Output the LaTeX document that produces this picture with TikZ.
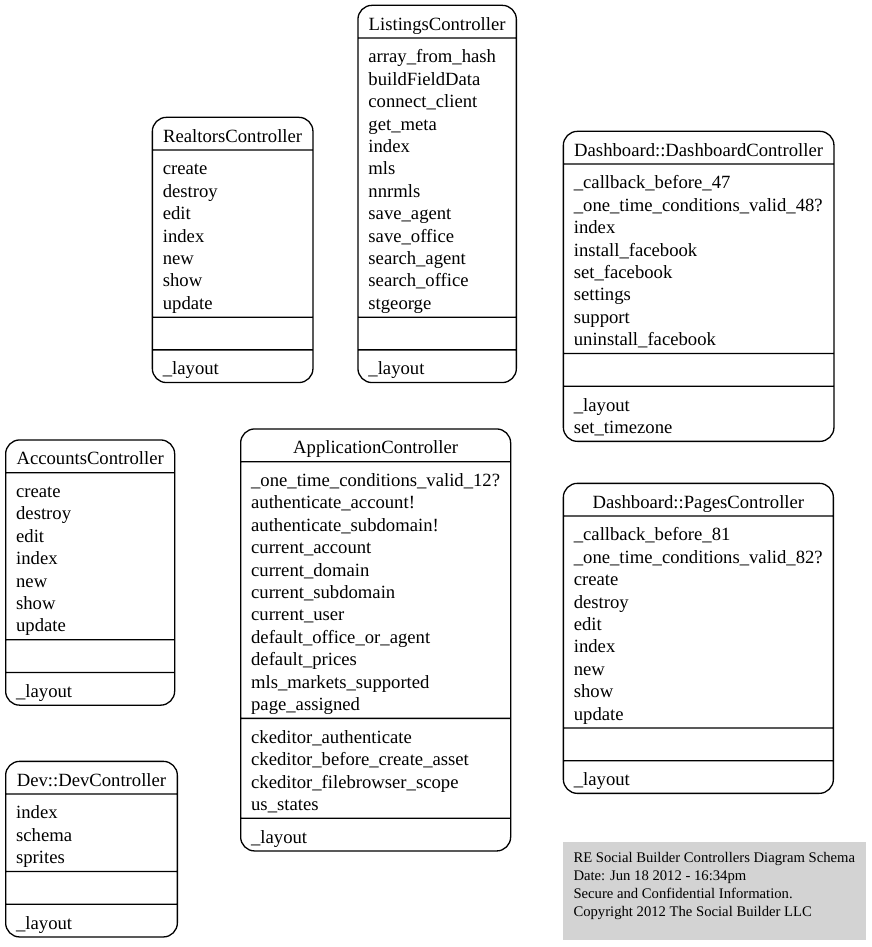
\documentclass[tikz,border=0pt]{standalone}
\usepackage{fontspec}
\setmainfont{Liberation Serif}
\usetikzlibrary{shapes.multipart}
\definecolor{notegray}{RGB}{211,211,211}
\newcommand{\topstr}{\rule{0pt}{19.7pt}}
\newcommand{\lastln}[1]{\smash{#1}\rule[-2.7pt]{0pt}{2.7pt}}

\begin{document}
\begin{tikzpicture}[x=1pt,y=-1pt,
  ctrl/.style={rectangle split,rectangle split parts=4,draw,line width=1.3pt,rounded corners=14pt,anchor=north west,inner xsep=10.5pt,inner ysep=4.5pt,align=left,font=\fontsize{18.67}{22.4}\selectfont},
  note/.style={fill=notegray,anchor=north west,inner sep=0pt,minimum width=303.7pt,minimum height=98.3pt},
  notetext/.style={anchor=north west,inner sep=0pt,align=left,font=\fontsize{14.67}{18}\selectfont}]
\useasboundingbox (0,0) rectangle (871,947);
\node[ctrl,text width=139.6pt] (realtors) at (151.7,116.7) {\topstr\hfill\lastln{RealtorsController}\hfill\null
\nodepart{two}\topstr create\\destroy\\edit\\index\\new\\show\\\lastln{update}
\nodepart{three}\strut
\nodepart{four}\topstr\lastln{\_layout}};
\node[ctrl,text width=137.4pt] (listings) at (357.3,4.7) {\topstr\hfill\lastln{ListingsController}\hfill\null
\nodepart{two}\topstr array\_from\_hash\\buildFieldData\\connect\_client\\get\_meta\\index\\mls\\nnrmls\\save\_agent\\save\_office\\search\_agent\\search\_office\\\lastln{stgeorge}
\nodepart{three}\strut
\nodepart{four}\topstr\lastln{\_layout}};
\node[ctrl,text width=249.6pt] (dashboard) at (562.7,130.7) {\topstr\hfill\lastln{Dashboard::DashboardController}\hfill\null
\nodepart{two}\topstr\_callback\_before\_47\\\_one\_time\_conditions\_valid\_48?\\index\\install\_facebook\\set\_facebook\\settings\\support\\\lastln{uninstall\_facebook}
\nodepart{three}\strut
\nodepart{four}\topstr\_layout\\\lastln{set\_timezone}};
\node[ctrl,text width=148pt] (accounts) at (5,439.3) {\topstr\hfill\lastln{AccountsController}\hfill\null
\nodepart{two}\topstr create\\destroy\\edit\\index\\new\\show\\\lastln{update}
\nodepart{three}\strut
\nodepart{four}\topstr\lastln{\_layout}};
\node[ctrl,text width=249pt] (application) at (240,428.3) {\topstr\hfill\lastln{ApplicationController}\hfill\null
\nodepart{two}\topstr\_one\_time\_conditions\_valid\_12?\\authenticate\_account!\\authenticate\_subdomain!\\current\_account\\current\_domain\\current\_subdomain\\current\_user\\default\_office\_or\_agent\\default\_prices\\mls\_markets\_supported\\\lastln{page\_assigned}
\nodepart{three}\topstr ckeditor\_authenticate\\ckeditor\_before\_create\_asset\\ckeditor\_filebrowser\_scope\\\lastln{us\_states}
\nodepart{four}\topstr\lastln{\_layout}};
\node[ctrl,text width=249pt] (pages) at (562.7,482.7) {\topstr\hfill\lastln{Dashboard::PagesController}\hfill\null
\nodepart{two}\topstr\_callback\_before\_81\\\_one\_time\_conditions\_valid\_82?\\create\\destroy\\edit\\index\\new\\show\\\lastln{update}
\nodepart{three}\strut
\nodepart{four}\topstr\lastln{\_layout}};
\node[ctrl,text width=150.7pt] (dev) at (5,760.7) {\topstr\hfill\lastln{Dev::DevController}\hfill\null
\nodepart{two}\topstr index\\schema\\\lastln{sprites}
\nodepart{three}\strut
\nodepart{four}\topstr\lastln{\_layout}};
\node[note] (legend) at (562.3,841.7) {};
\node[notetext] (legendtext) at ([xshift=11pt,yshift=-8.4pt]legend.north west) {\strut RE Social Builder Controllers Diagram Schema\\Date: Jun 18 2012 - 16:34pm\\Secure and Confidential Information.\\Copyright 2012 The Social Builder LLC\strut};
\end{tikzpicture}
\end{document}
